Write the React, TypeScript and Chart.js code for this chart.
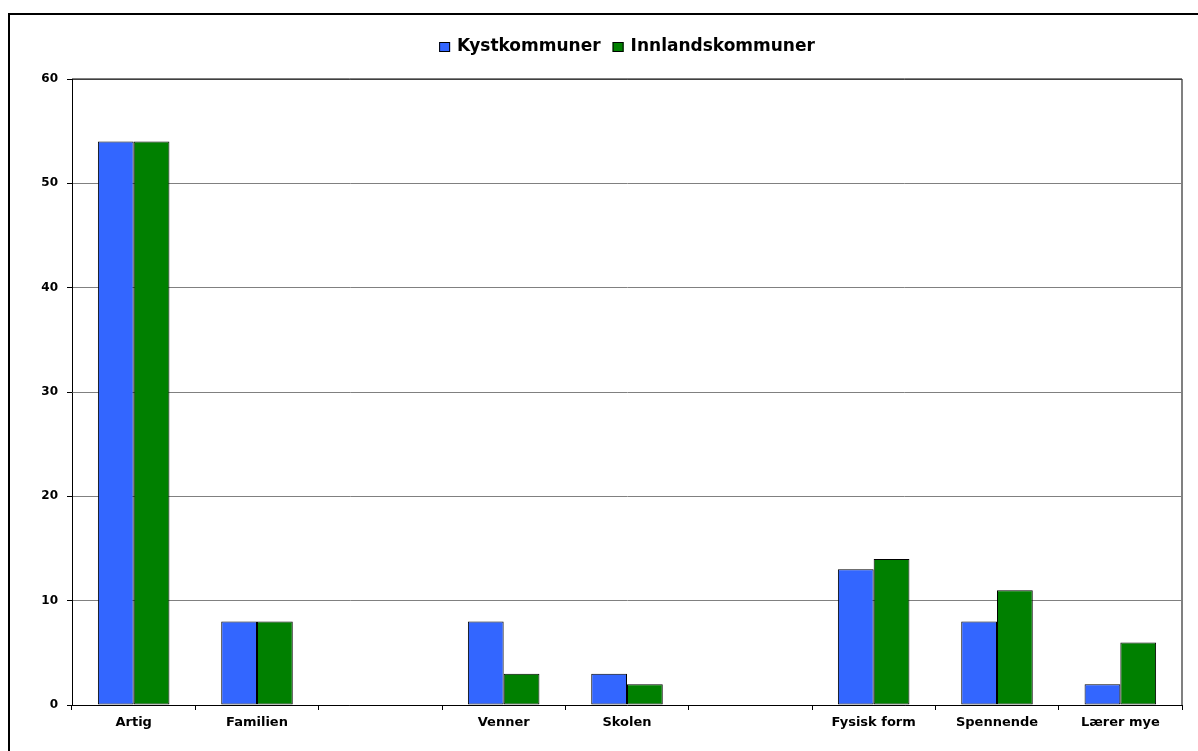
import React, { useEffect, useRef } from "react";
import { Chart, registerables } from "chart.js";

Chart.register(...registerables);

const categories = ["Artig", "Familien", "", "Venner", "Skolen", "", "Fysisk form", "Spennende", "Lærer mye"];
const kystValues = [54, 8, null, 8, 3, null, 13, 8, 2];
const innlandValues = [54, 8, null, 3, 2, null, 14, 11, 6];
const seriesNames = ["Kystkommuner", "Innlandskommuner"];
const seriesColors = ["#3366FF", "#008000"];
const yTicks = [0, 10, 20, 30, 40, 50, 60];

const FONT = "'DejaVu Sans', Arial, sans-serif";

const legendPlugin = {
  id: "customLegend",
  afterDraw(chart: any) {
    const ctx = chart.ctx;
    const area = chart.chartArea;
    ctx.save();
    ctx.font = `bold 17px ${FONT}`;
    ctx.textBaseline = "middle";
    ctx.textAlign = "left";
    const box = 11;
    const gap = 7;
    const itemGap = 12;
    const items = chart.data.datasets.map((d: any) => ({
      label: d.label,
      color: d.backgroundColor,
      w: ctx.measureText(d.label).width,
    }));
    let total = 0;
    items.forEach((it: any, i: number) => {
      total += box + gap + it.w + (i < items.length - 1 ? itemGap : 0);
    });
    let x = (area.left + area.right) / 2 - total / 2;
    const y = 47;
    items.forEach((it: any) => {
      ctx.fillStyle = it.color;
      ctx.fillRect(x, y - 5, box, 10);
      ctx.strokeStyle = "#000";
      ctx.lineWidth = 1;
      ctx.strokeRect(x + 0.5, y - 4.5, box - 1, 9);
      ctx.fillStyle = "#000";
      ctx.fillText(it.label, x + box + gap, y);
      x += box + gap + it.w + itemGap;
    });
    ctx.restore();
  },
};

const rightBorderPlugin = {
  id: "rightBorder",
  afterDatasetsDraw(chart: any) {
    const ctx = chart.ctx;
    const a = chart.chartArea;
    ctx.save();
    ctx.strokeStyle = "#808080";
    ctx.lineWidth = 2;
    ctx.beginPath();
    ctx.moveTo(a.right, a.top);
    ctx.lineTo(a.right, a.bottom);
    ctx.stroke();
    ctx.strokeStyle = "#000";
    ctx.lineWidth = 1;
    ctx.beginPath();
    ctx.moveTo(a.left, a.top);
    ctx.lineTo(a.right, a.top);
    ctx.stroke();
    ctx.restore();
  },
};

export default function App() {
  const canvasRef = useRef<HTMLCanvasElement | null>(null);

  useEffect(() => {
    if (!canvasRef.current) return;
    const chart = new Chart(canvasRef.current, {
      type: "bar",
      data: {
        labels: categories,
        datasets: [
          {
            label: seriesNames[0],
            data: kystValues,
            backgroundColor: seriesColors[0],
            borderColor: "#000",
            borderWidth: 1,
            borderSkipped: false,
            categoryPercentage: 0.58,
            barPercentage: 1,
          },
          {
            label: seriesNames[1],
            data: innlandValues,
            backgroundColor: seriesColors[1],
            borderColor: "#000",
            borderWidth: 1,
            borderSkipped: false,
            categoryPercentage: 0.58,
            barPercentage: 1,
          },
        ],
      },
      options: {
        animation: false,
        responsive: true,
        maintainAspectRatio: false,
        layout: { padding: { top: 79, right: 16, left: 0, bottom: 0 } },
        plugins: {
          legend: { display: false },
          tooltip: { enabled: false },
        },
        scales: {
          x: {
            afterFit: (scale: any) => {
              scale.height = 46;
            },
            grid: {
              display: true,
              drawOnChartArea: false,
              drawTicks: true,
              tickLength: 5,
              color: "#000",
              offset: true,
            },
            border: { color: "#000", width: 1 },
            ticks: {
              autoSkip: false,
              maxRotation: 0,
              color: "#000",
              padding: 5,
              font: { family: FONT, size: 13, weight: "bold" },
            },
          },
          y: {
            min: 0,
            max: 60,
            afterFit: (scale: any) => {
              scale.width = 72;
            },
            afterBuildTicks: (scale: any) => {
              scale.ticks = yTicks.map((v) => ({ value: v }));
            },
            grid: {
              color: "#808080",
              lineWidth: 1,
              tickLength: 5,
              tickColor: "#000",
            },
            border: { color: "#000", width: 1 },
            ticks: {
              color: "#000",
              padding: 9,
              font: { family: FONT, size: 12, weight: "bold" },
            },
          },
        },
      },
      plugins: [legendPlugin, rightBorderPlugin],
    } as any);
    return () => chart.destroy();
  }, []);

  return (
    <div
      style={{
        position: "fixed",
        left: 0,
        top: 0,
        width: 1198,
        height: 751,
        background: "#fff",
        overflow: "hidden",
      }}
    >
      <div
        style={{
          position: "absolute",
          left: 8,
          top: 13,
          width: 1400,
          height: 1000,
          borderTop: "2px solid #000",
          borderLeft: "2px solid #000",
          boxSizing: "border-box",
        }}
      />
      <div style={{ position: "absolute", left: 0, top: 0, width: 1198, height: 751 }}>
        <canvas ref={canvasRef} />
      </div>
    </div>
  );
}
